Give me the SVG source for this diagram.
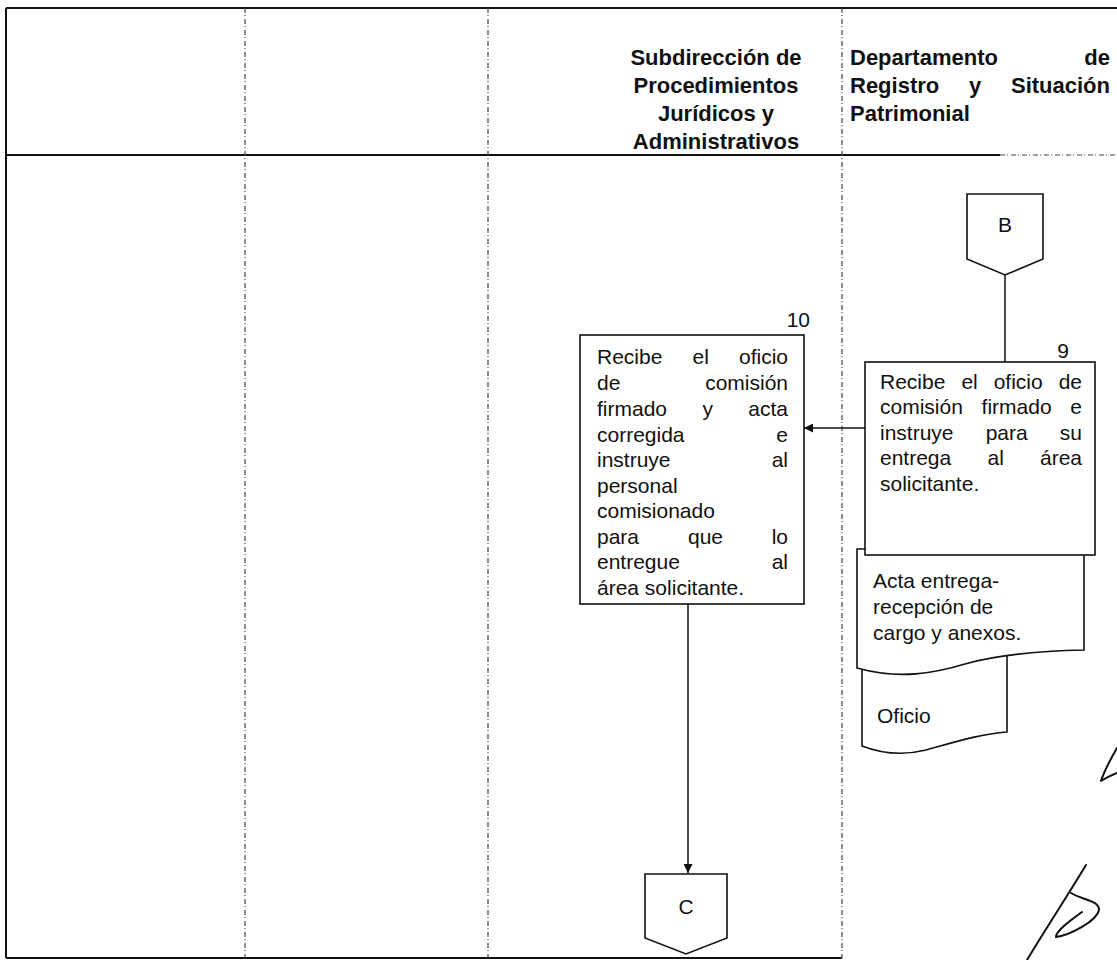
<svg xmlns="http://www.w3.org/2000/svg" width="1117" height="960" viewBox="0 0 1117 960">
  <defs>
    <marker id="arrow" viewBox="0 0 10 10" refX="10" refY="5" markerWidth="11" markerHeight="9" markerUnits="userSpaceOnUse" orient="auto">
      <path d="M0,0 L10,5 L0,10 Z" fill="#111"/>
    </marker>
    <style>
      .frame { stroke: #111; stroke-width: 2; fill: none; }
      .lane { stroke: #444; stroke-width: 1.2; stroke-dasharray: 5 2 1 3; fill: none; }
      .hdr { font-family: "Liberation Sans", Arial, sans-serif; font-weight: bold; font-size: 22px; fill: #111; }
      .txt { font-family: "Liberation Sans", Arial, sans-serif; font-size: 21px; fill: #111; }
      .shape { stroke: #111; stroke-width: 1.6; fill: #fff; }
      .link { stroke: #111; stroke-width: 1.5; fill: none; }
      .sig { stroke: #111; stroke-width: 2; fill: none; stroke-linecap: round; stroke-linejoin: round; }
    </style>
  </defs>

  <rect width="1117" height="960" fill="#fff"/>

  <!-- table frame and lanes -->
  <g id="frame">
    <line class="frame" x1="6" y1="8" x2="1117" y2="8" stroke-width="1.6"/>
    <line class="frame" x1="6" y1="8" x2="6" y2="958" stroke-width="2.4"/>
    <line class="frame" x1="6" y1="958" x2="842" y2="958"/>
    <line class="frame" x1="6" y1="155" x2="1000" y2="155" stroke-width="1.4"/>
    <line class="lane" x1="1000" y1="155" x2="1117" y2="155"/>
    <line class="lane" x1="245" y1="8" x2="245" y2="958"/>
    <line class="lane" x1="488" y1="8" x2="488" y2="958"/>
    <line class="lane" x1="842" y1="8" x2="842" y2="958"/>
  </g>

  <!-- lane headers -->
  <g id="header-subdireccion" class="hdr" text-anchor="middle">
    <text x="716" y="65">Subdirección de</text>
    <text x="716" y="93">Procedimientos</text>
    <text x="716" y="121">Jurídicos y</text>
    <text x="716" y="149">Administrativos</text>
  </g>
  <g id="header-departamento" class="hdr">
    <text x="850" y="65">Departamento</text>
    <text x="1110" y="65" text-anchor="end">de</text>
    <text x="850" y="93">Registro</text>
    <text x="969" y="93">y</text>
    <text x="1110" y="93" text-anchor="end">Situación</text>
    <text x="850" y="121">Patrimonial</text>
  </g>

  <!-- connectors -->
  <g id="connectors">
    <line class="link" x1="1005" y1="275" x2="1005" y2="362"/>
    <line class="link" x1="865" y1="428" x2="804" y2="428" marker-end="url(#arrow)"/>
    <line class="link" x1="688" y1="604" x2="688" y2="873" marker-end="url(#arrow)"/>
  </g>

  <!-- off-page connector B -->
  <g id="node-B">
    <path class="shape" d="M967,194 H1043 V259 L1005,275 L967,259 Z"/>
    <text class="txt" x="1005" y="232" text-anchor="middle" font-size="17">B</text>
  </g>

  <!-- step 10 -->
  <g id="node-10">
    <rect class="shape" x="580" y="335" width="224" height="269"/>
    <text class="txt" x="810" y="327" text-anchor="end">10</text>
    <g class="txt">
      <text x="597" y="364">Recibe</text><text x="692.5" y="364">el</text><text x="788" y="364" text-anchor="end">oficio</text>
      <text x="597" y="390">de</text><text x="788" y="390" text-anchor="end">comisión</text>
      <text x="597" y="416">firmado</text><text x="702.4" y="416">y</text><text x="788" y="416" text-anchor="end">acta</text>
      <text x="597" y="442">corregida</text><text x="788" y="442" text-anchor="end">e</text>
      <text x="597" y="467">instruye</text><text x="788" y="467" text-anchor="end">al</text>
      <text x="597" y="493">personal</text>
      <text x="597" y="518">comisionado</text>
      <text x="597" y="544">para</text><text x="688" y="544">que</text><text x="788" y="544" text-anchor="end">lo</text>
      <text x="597" y="569">entregue</text><text x="788" y="569" text-anchor="end">al</text>
      <text x="597" y="595">área solicitante.</text>
    </g>
  </g>

  <!-- documents attached to step 9 -->
  <g id="doc-oficio">
    <path class="shape" d="M862,640 V746 C880,753 902,756 926,750 C955,742 980,734 1007,732 V640 Z"/>
    <text class="txt" x="877" y="723">Oficio</text>
  </g>
  <g id="doc-acta">
    <path class="shape" d="M857,549 H1084 V650 C1040,651 1000,654 965,664 C935,673 900,680 857,668 Z"/>
    <g class="txt">
      <text x="873" y="588">Acta entrega-</text>
      <text x="873" y="614">recepción de</text>
      <text x="873" y="640">cargo y anexos.</text>
    </g>
  </g>

  <!-- step 9 -->
  <g id="node-9">
    <rect class="shape" x="865" y="362" width="230" height="193"/>
    <text class="txt" x="1063" y="358" text-anchor="middle">9</text>
    <g class="txt">
      <text x="880" y="389">Recibe</text><text x="961.4" y="389">el</text><text x="993.7" y="389">oficio</text><text x="1082" y="389" text-anchor="end">de</text>
      <text x="880" y="414">comisión</text><text x="981.6" y="414">firmado</text><text x="1082" y="414" text-anchor="end">e</text>
      <text x="880" y="440">instruye</text><text x="985.7" y="440">para</text><text x="1082" y="440" text-anchor="end">su</text>
      <text x="880" y="465">entrega</text><text x="987.5" y="465">al</text><text x="1082" y="465" text-anchor="end">área</text>
      <text x="880" y="491">solicitante.</text>
    </g>
  </g>

  <!-- off-page connector C -->
  <g id="node-C">
    <path class="shape" d="M645,874 H727 V938 L686,954 L645,938 Z"/>
    <text class="txt" x="686" y="914" text-anchor="middle" font-size="17">C</text>
  </g>

  <!-- handwritten initials -->
  <g id="initials" class="sig">
    <path d="M1117,748 C1110,760 1104,772 1101,781 C1106,778 1112,775 1117,773"/>
    <path d="M1086,865 C1068,895 1045,930 1027,960"/>
    <path d="M1071,893 C1082,900 1099,900 1099,910 C1097,921 1070,935 1056,937 C1056,930 1074,918 1082,912"/>
  </g>
</svg>
